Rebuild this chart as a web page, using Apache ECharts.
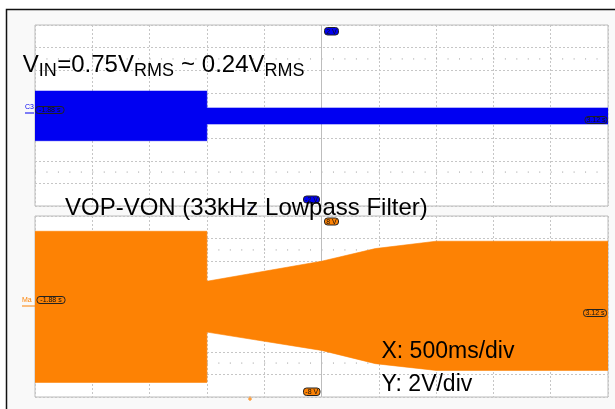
<!DOCTYPE html>
<html><head><meta charset="utf-8">
<script src="https://cdn.jsdelivr.net/npm/echarts@6/dist/echarts.min.js"></script>
<style>html,body{margin:0;padding:0;background:#fff}#c{width:615px;height:409px}</style>
</head><body><div id="c"></div>
<script>
// ---- data (time in seconds relative to trigger) ----
const timeRange = [-1.88, 3.12];
const timeLabels = ['-1.88 s', '3.12 s'];
// CH3 input (0.5 V/div), envelope of the waveform
const vinTime  = [-1.88, -0.38, -0.38, 3.12];
const vinUpper = [0.54, 0.54, 0.166, 0.166];
const vinLower = [-0.557, -0.557, -0.188, -0.188];
const vinScaleLabels = ['2 V', '-2 V'];
// Math VOP-VON (2 V/div), envelope
const voutTime  = [-1.88, -0.38, -0.38, 0.62, 1.09, 1.62, 3.12];
const voutUpper = [6.65, 6.65, 2.23, 4.0, 5.12, 5.77, 5.77];
const voutLower = [-6.71, -6.71, -2.26, -3.88, -5.05, -5.65, -5.65];
const voutScaleLabels = ['8 V', '-8 V'];
const titleParts = [['V', 0], ['IN', 1], ['=0.75V', 0], ['RMS', 1], [' ~ 0.24V', 0], ['RMS', 1]];
const subTitle = 'VOP-VON (33kHz Lowpass Filter)';
const xNote = 'X: 500ms/div';
const yNote = 'Y: 2V/div';
const ch3Name = 'C3';
const mathName = 'Ma';

const BLUE = '#0000f2', ORANGE = '#fd8204';
const FONT = '"Liberation Sans", Arial, sans-serif';
const G = {left: 35, width: 573, h: 181, top0: 25, top1: 216};

const chart = echarts.init(document.getElementById('c'), null, {renderer: 'canvas'});

// envelope band: upper edge filled down slightly past zero, lower edge filled up to zero (overlap hides seam)
function band(t, up, lo, color, xi, yi, overlap) {
  const base = {type: 'line', xAxisIndex: xi, yAxisIndex: yi, symbol: 'none', silent: true, animation: false, z: 3,
    lineStyle: {width: 0.6, color: color}};
  return [
    Object.assign({}, base, {data: t.map((x, i) => [x, up[i]]), areaStyle: {color: color, opacity: 1, origin: -overlap}}),
    Object.assign({}, base, {data: t.map((x, i) => [x, lo[i]]), areaStyle: {color: color, opacity: 1, origin: overlap}})
  ];
}
const gridLine = {show: true, lineStyle: {color: '#c6c6c6', type: [2, 2], width: 1}};
function timeAxis(gi) { return {gridIndex: gi, type: 'value', min: timeRange[0], max: timeRange[1], show: false}; }
function divAxis(gi) {
  return {gridIndex: gi, type: 'value', min: 0, max: 10, interval: 1, axisLine: {show: false},
    axisTick: {show: false}, axisLabel: {show: false}, splitLine: gridLine};
}
function voltAxis(gi, lim, step) {
  return {gridIndex: gi, type: 'value', min: -lim, max: lim, interval: step, axisLine: {show: false},
    axisTick: {show: false}, axisLabel: {show: false}, splitLine: gridLine};
}

// --- decorations ---
const cv = document.createElement('canvas').getContext('2d');
function tw(s, size) { cv.font = size + 'px ' + FONT; return cv.measureText(s).width; }
const gfx = [];
gfx.push({type: 'rect', z: -10, shape: {x: 6.5, y: 9.5, width: 620, height: 410},
  style: {fill: '#f9f9f9', stroke: '#111', lineWidth: 1.5}, silent: true});
// minor dot rows & centre lines
const div = G.h / 8;
[G.top0, G.top1].forEach(top => {
  [1.5, 6.5].forEach(r => gfx.push({type: 'line', z: 1, shape: {x1: G.left, y1: top + r * div, x2: G.left + G.width, y2: top + r * div},
    style: {stroke: '#9a9a9a', lineWidth: 1, lineDash: [1, G.width / 50 - 1]}, silent: true}));
  gfx.push({type: 'line', z: 1, shape: {x1: G.left + G.width / 2, y1: top, x2: G.left + G.width / 2, y2: top + G.h},
    style: {stroke: '#bdbdbd', lineWidth: 1}, silent: true});
});
function tag(x, y, w, h, text, fill, z) {
  gfx.push({type: 'rect', z: z || 5, shape: {x: x, y: y, width: w, height: h, r: 3},
    style: {fill: fill, stroke: '#222', lineWidth: 1}, silent: true});
  gfx.push({type: 'text', z: z || 5, x: x + w / 2, y: y + h / 2 + 0.5,
    style: {text: text, font: '7px ' + FONT, fill: '#111', align: 'center', verticalAlign: 'middle'}, silent: true});
}
tag(35.5, 106.5, 28.5, 7, timeLabels[0], 'transparent');
tag(585, 116.5, 22, 7, timeLabels[1], 'transparent');
tag(37, 296.5, 28, 7, timeLabels[0], 'transparent');
tag(583.5, 309.5, 23, 7, timeLabels[1], 'transparent');
tag(324.5, 27.5, 14, 7.5, vinScaleLabels[0], BLUE);
tag(303.5, 196, 16, 7, vinScaleLabels[1], BLUE);
tag(324.5, 218, 14, 7, voutScaleLabels[0], ORANGE);
tag(303.5, 388, 16.5, 7.5, voutScaleLabels[1], ORANGE);
// channel names
gfx.push({type: 'text', z: 5, x: 25, y: 107.5, style: {text: ch3Name, font: '7px ' + FONT, fill: BLUE, verticalAlign: 'middle'}});
gfx.push({type: 'line', z: 5, shape: {x1: 25, y1: 113, x2: 34, y2: 113}, style: {stroke: BLUE, lineWidth: 1}});
gfx.push({type: 'text', z: 5, x: 22, y: 300, style: {text: mathName, font: '7px ' + FONT, fill: ORANGE, verticalAlign: 'middle'}});
gfx.push({type: 'line', z: 5, shape: {x1: 22, y1: 306, x2: 35, y2: 306}, style: {stroke: ORANGE, lineWidth: 1}});
// trigger markers
gfx.push({type: 'line', z: 5, shape: {x1: 248.5, y1: 213, x2: 252, y2: 207}, style: {stroke: BLUE, lineWidth: 1}});
gfx.push({type: 'line', z: 5, shape: {x1: 250, y1: 396.5, x2: 250, y2: 401}, style: {stroke: ORANGE, lineWidth: 1}});
gfx.push({type: 'line', z: 5, shape: {x1: 248, y1: 399, x2: 252, y2: 399}, style: {stroke: ORANGE, lineWidth: 1}});
// title with subscripts
let tx = 22.7;
titleParts.forEach(([s, sub]) => {
  const size = sub ? 18 : 24;
  const base = sub ? 77.5 : 74;
  gfx.push({type: 'text', z: 10, x: tx, y: base - 0.3465 * size,
    style: {text: s, font: size + 'px ' + FONT, fill: '#000', align: 'left', verticalAlign: 'middle'}});
  tx += tw(s, size) + (sub ? 0.5 : 0);
});
gfx.push({type: 'text', z: 10, x: 65, y: 217 - 0.3465 * 24,
  style: {text: subTitle, font: '24px ' + FONT, fill: '#000', verticalAlign: 'middle'}});
gfx.push({type: 'text', z: 10, x: 381.5, y: 359.3 - 0.3465 * 23,
  style: {text: xNote, font: '23px ' + FONT, fill: '#000', verticalAlign: 'middle'}});
gfx.push({type: 'text', z: 10, x: 381.5, y: 392.7 - 0.3465 * 23,
  style: {text: yNote, font: '23px ' + FONT, fill: '#000', verticalAlign: 'middle'}});

chart.setOption({
  animation: false,
  backgroundColor: '#fff',
  grid: [
    {left: G.left, top: G.top0, width: G.width, height: G.h, show: true, backgroundColor: '#fff', borderColor: '#bcbcbc', borderWidth: 1},
    {left: G.left, top: G.top1, width: G.width, height: G.h, show: true, backgroundColor: '#fff', borderColor: '#bcbcbc', borderWidth: 1}
  ],
  xAxis: [timeAxis(0), divAxis(0), timeAxis(1), divAxis(1)],
  yAxis: [voltAxis(0, 2, 0.5), voltAxis(1, 8, 2)],
  series: [].concat(
    band(vinTime, vinUpper, vinLower, BLUE, 0, 0, 0.1),
    band(voutTime, voutUpper, voutLower, ORANGE, 2, 1, 0.5)
  ),
  graphic: {elements: gfx}
});
</script></body></html>
